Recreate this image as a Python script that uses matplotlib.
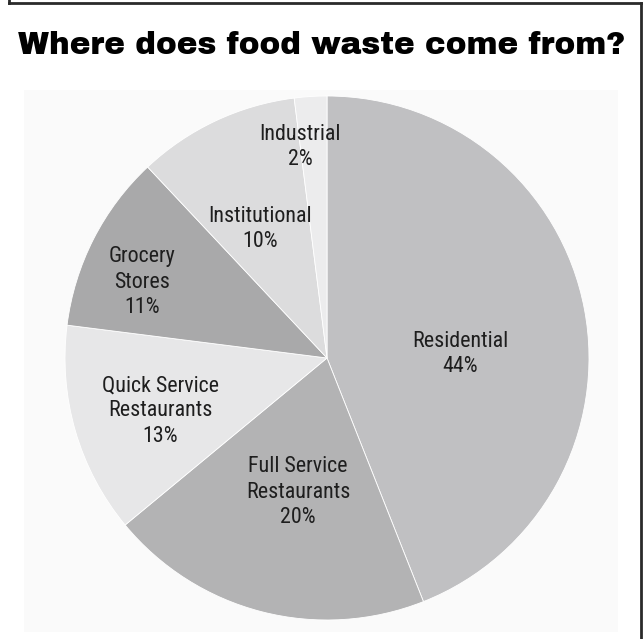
import matplotlib
matplotlib.use("Agg")
import matplotlib.pyplot as plt
from matplotlib.lines import Line2D
from matplotlib.patches import Rectangle

categories = ["Residential", "Full Service\nRestaurants", "Quick Service\nRestaurants",
              "Grocery\nStores", "Institutional", "Industrial"]
values = [44, 20, 13, 11, 10, 2]
colors = ["#c0c0c2", "#b3b3b4", "#e7e7e8", "#a9a9aa", "#dcdcdd", "#ececed"]
title = "Where does food waste come from?"

W, H = 644, 639
fig = plt.figure(figsize=(W / 100, H / 100), dpi=100)
fig.patch.set_facecolor("white")
renderer = fig.canvas.get_renderer()

# frame and inner panel
fig.add_artist(Rectangle((24 / W, (H - 632) / H), (618 - 24) / W, (632 - 90) / H,
                         transform=fig.transFigure, facecolor="#fafafa", edgecolor="none", zorder=0))
for xs, ys in [([9, 9], [0, 3]), ([9, 641], [3, 3]), ([641, 641], [3, 639])]:
    fig.add_artist(Line2D([x / W for x in xs], [1 - y / H for y in ys],
                          transform=fig.transFigure, color="#2a2a2a", lw=2))

t = fig.text(322 / W, 1 - 46 / H, title, ha="center", va="center",
             fontsize=25, family="Archivo Black", color="black")
w = t.get_window_extent(renderer).width
t.set_fontsize(25 * 607 / w)

cx, cy, r = 327, 358, 262
ax = fig.add_axes([(cx - r) / W, (H - cy - r) / H, 2 * r / W, 2 * r / H])
ax.pie(values, colors=colors, startangle=90, counterclock=False,
       wedgeprops=dict(edgecolor="white", linewidth=0.6), radius=1)
ax.set_xlim(-1, 1)
ax.set_ylim(-1, 1)
ax.set_axis_off()

lfam = "Roboto Condensed"
probe = fig.text(0, 0, "Quick Service", fontsize=14, family=lfam)
lfs = 14 * 118 / probe.get_window_extent(renderer).width
probe.set_fontsize(lfs)
probe.set_text("lp")
probe.set_linespacing(1.0)
h1 = probe.get_window_extent(renderer).height
probe.set_text("lp\nlp")
h2 = probe.get_window_extent(renderer).height
probe.remove()
ls = 26.5 / (h2 - h1)

label_pos = [(460, 354), (298, 492), (160, 411), (142, 282), (260, 229), (300, 147)]
for cat, v, (px, py) in zip(categories, values, label_pos):
    ax.text((px - cx) / r, (cy - py) / r, f"{cat}\n{v}%", ha="center", va="center",
            fontsize=lfs, family=lfam, color="#1e1e1e", linespacing=ls)

fig.savefig("out.png", dpi=100)
